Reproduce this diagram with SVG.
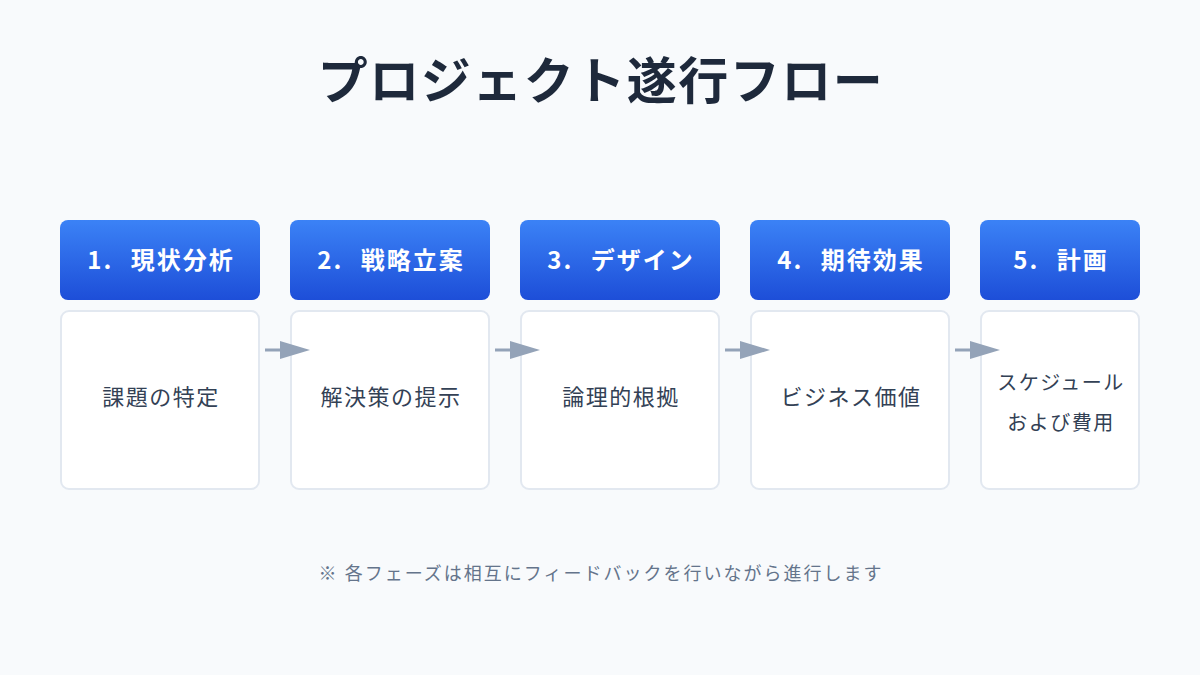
<svg xmlns="http://www.w3.org/2000/svg" width="1200" height="675" viewBox="0 0 1200 675">
<defs>
<linearGradient id="hg" x1="0" y1="0" x2="0" y2="1">
<stop offset="0" stop-color="#3b82f6"/>
<stop offset="1" stop-color="#1d4ed8"/>
</linearGradient>
<style>
text{font-family:"Noto Sans CJK JP","Noto Sans",sans-serif;}
.title{font-size:50px;font-weight:bold;fill:#1e293b;text-anchor:middle;letter-spacing:1.5px;}
.head{fill:url(#hg);}
.ht{font-size:24px;font-weight:bold;fill:#ffffff;text-anchor:middle;letter-spacing:2px;}
.body{fill:#ffffff;stroke:#e2e8f0;stroke-width:2;}
.bt{font-size:22px;fill:#334155;text-anchor:middle;letter-spacing:1.5px;}
.bt2{font-size:20px;fill:#334155;text-anchor:middle;letter-spacing:1.5px;}
.foot{font-size:18px;fill:#64748b;text-anchor:middle;letter-spacing:2px;}
.arrow{fill:#94a3b8;}
.line{stroke:#94a3b8;stroke-width:3;}
</style>
</defs>
<rect width="1200" height="675" fill="#f8fafc"/>
<text class="title" x="601" y="99">プロジェクト遂行フロー</text>
<g id="node1">
<rect class="head" x="60" y="220" width="200" height="80" rx="8"/>
<text class="ht" x="161" y="269">1.<tspan dx="10"> 現状分析</tspan></text>
<rect class="body" x="61" y="311" width="198" height="178" rx="8"/>
<text class="bt" x="161" y="405">課題の特定</text>
</g>
<g id="node2">
<rect class="head" x="290" y="220" width="200" height="80" rx="8"/>
<text class="ht" x="391" y="269">2.<tspan dx="10"> 戦略立案</tspan></text>
<rect class="body" x="291" y="311" width="198" height="178" rx="8"/>
<text class="bt" x="391" y="405">解決策の提示</text>
</g>
<g id="node3">
<rect class="head" x="520" y="220" width="200" height="80" rx="8"/>
<text class="ht" x="621" y="269">3.<tspan dx="10"> デザイン</tspan></text>
<rect class="body" x="521" y="311" width="198" height="178" rx="8"/>
<text class="bt" x="621" y="405">論理的根拠</text>
</g>
<g id="node4">
<rect class="head" x="750" y="220" width="200" height="80" rx="8"/>
<text class="ht" x="851" y="269">4.<tspan dx="10"> 期待効果</tspan></text>
<rect class="body" x="751" y="311" width="198" height="178" rx="8"/>
<text class="bt" x="851" y="405">ビジネス価値</text>
</g>
<g id="node5">
<rect class="head" x="980" y="220" width="160" height="80" rx="8"/>
<text class="ht" x="1061" y="269">5.<tspan dx="10"> 計画</tspan></text>
<rect class="body" x="981" y="311" width="158" height="178" rx="8"/>
<text class="bt2" x="1061" y="390">スケジュール</text>
<text class="bt2" x="1061" y="430">および費用</text>
</g>
<g id="connectors">
<line class="line" x1="265" y1="350" x2="282" y2="350"/>
<path class="arrow" d="M280,341 L310,350 L280,359 z"/>
<line class="line" x1="495" y1="350" x2="512" y2="350"/>
<path class="arrow" d="M510,341 L540,350 L510,359 z"/>
<line class="line" x1="725" y1="350" x2="742" y2="350"/>
<path class="arrow" d="M740,341 L770,350 L740,359 z"/>
<line class="line" x1="955" y1="350" x2="972" y2="350"/>
<path class="arrow" d="M970,341 L1000,350 L970,359 z"/>
</g>
<text class="foot" x="601" y="580">※ 各フェーズは相互にフィードバックを行いながら進行します</text>
</svg>
